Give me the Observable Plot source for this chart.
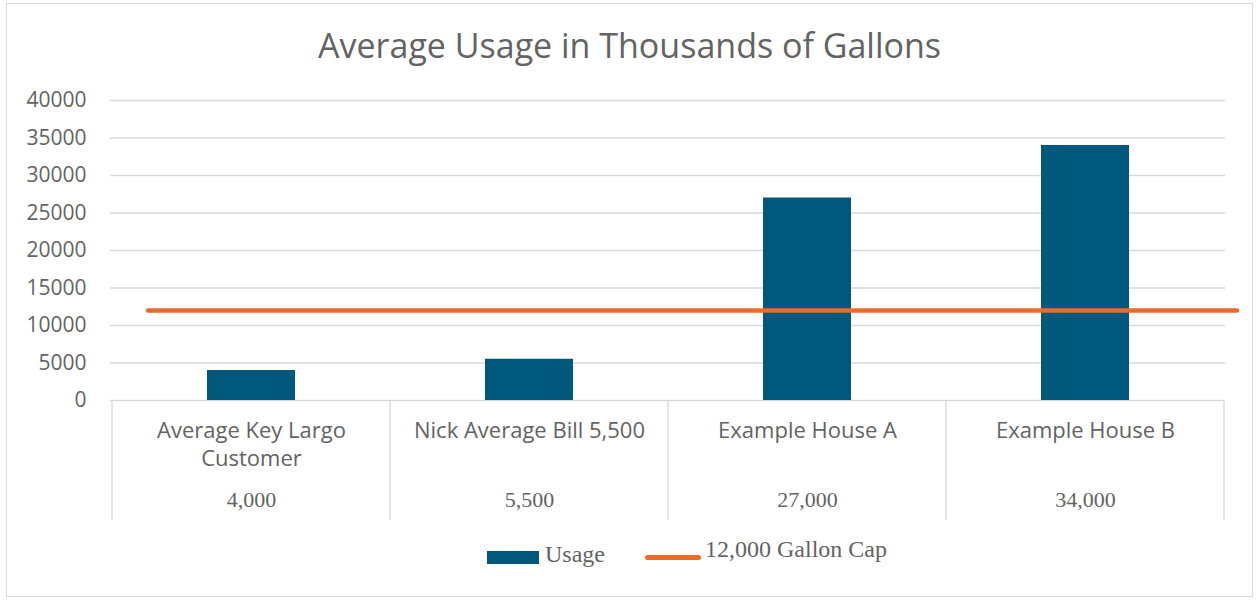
<!DOCTYPE html>
<html><head><meta charset="utf-8">
<script src="https://cdn.jsdelivr.net/npm/d3@7"></script>
<script src="https://cdn.jsdelivr.net/npm/@observablehq/plot@0.6"></script>
<style>
body{margin:0;background:#fff;}
#wrap{position:relative;width:1259px;height:602px;overflow:hidden;}
#border{position:absolute;left:6px;top:3px;width:1247px;height:594px;border:1px solid #d9d9d9;box-sizing:border-box;}
#title{position:absolute;left:0;top:28px;width:1259px;text-align:center;font:34px/34px "Open Sans";color:#636363;}
#chart{position:absolute;left:0;top:0;}
.leg{position:absolute;font:24px/24px "Liberation Serif";color:#636363;white-space:nowrap;}
.sw{position:absolute;}
</style></head><body>
<div id="wrap"><div id="border"></div><div id="chart"></div><div id="title"></div><div id="legend"></div></div>
<script>
const titleText = "Average Usage in Thousands of Gallons";
const categories = ["Average Key Largo Customer", "Nick Average Bill 5,500", "Example House A", "Example House B"];
const categoryLabels = ["Average Key Largo\nCustomer", "Nick Average Bill 5,500", "Example House A", "Example House B"];
const usage = [4000, 5500, 27000, 34000];
const valueLabels = ["4,000", "5,500", "27,000", "34,000"];
const capValue = 12000;
const yTicks = [0, 5000, 10000, 15000, 20000, 25000, 30000, 35000, 40000];
const seriesNames = ["Usage", "12,000 Gallon Cap"];

const blue = "#00587D", orange = "#ED6B27", gray = "#636363", gridGray = "#d9d9d9";

const data = categories.map((c, i) => ({category: c, label: categoryLabels[i], usage: usage[i], valueLabel: valueLabels[i]}));

const plot = Plot.plot({
  width: 1259, height: 602,
  marginTop: 100, marginBottom: 202, marginLeft: 110, marginRight: 34,
  style: {background: "transparent", fontFamily: "Open Sans", color: gray},
  x: {type: "band", domain: categories, padding: 0, axis: null},
  y: {domain: [0, 40000], label: null},
  marks: [
    Plot.gridY(yTicks, {stroke: gridGray, strokeOpacity: 1, strokeWidth: 1.3}),
    Plot.axisY(yTicks, {tickSize: 0, tickPadding: 24, tickFormat: d3.format("d"), fontSize: 21, fill: gray, label: null}),
    Plot.barY(data, {x: "category", y: "usage", fill: blue, insetLeft: 95, insetRight: 95}),
    Plot.ruleY([capValue], {stroke: orange, strokeWidth: 4.5, strokeLinecap: "round", insetLeft: 38, insetRight: -12}),
    Plot.text(data, {x: "category", text: "label", frameAnchor: "bottom", lineAnchor: "top", dy: 17, lineHeight: 1.28, fontSize: 22, fill: gray}),
    Plot.text(data, {x: "category", text: "valueLabel", frameAnchor: "bottom", lineAnchor: "top", dy: 91, fontSize: 22, fontFamily: "Liberation Serif", fill: gray})
  ]
});

// table separators drawn through the plot's own scales
const xs = plot.scale("x"), ys = plot.scale("y");
const edges = categories.map(c => xs.apply(c)).concat([xs.apply(categories[categories.length - 1]) + xs.bandwidth]);
const y0 = ys.apply(0);
d3.select(plot).insert("g", ":first-child")
  .selectAll("line").data(edges).join("line")
  .attr("x1", d => d).attr("x2", d => d)
  .attr("y1", y0).attr("y2", y0 + 120)
  .attr("stroke", gridGray).attr("stroke-width", 1.3);

document.getElementById("chart").append(plot);
document.getElementById("title").textContent = titleText;

const legend = document.getElementById("legend");
legend.innerHTML = `
  <div class="sw" style="left:487px;top:551px;width:52px;height:13px;background:${blue}"></div>
  <div class="leg" style="left:545px;top:542px">${seriesNames[0]}</div>
  <div class="sw" style="left:645px;top:555px;width:56px;height:4.5px;border-radius:3px;background:${orange}"></div>
  <div class="leg" style="left:705px;top:537px">${seriesNames[1]}</div>`;
</script>
</body></html>
